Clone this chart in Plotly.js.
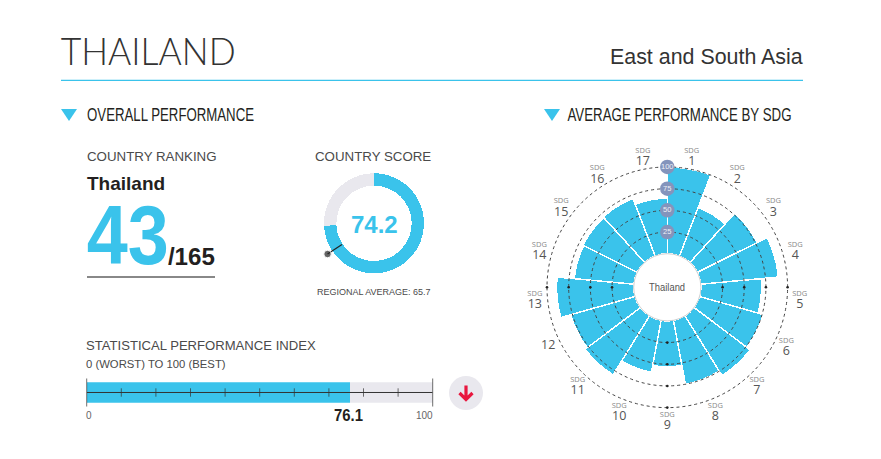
<!DOCTYPE html>
<html><head><meta charset="utf-8">
<script src="https://cdn.plot.ly/plotly-3.0.1.min.js"></script>
<style>html,body{margin:0;padding:0;background:#fff}</style></head>
<body><div id="chart" style="width:881px;height:459px"></div>
<script>
const sdgCategories = ['1','2','3','4','5','6','7','8','9','10','11','12','13','14','15','16','17'];
const sdgScores = [100,60,77,90,70,76,81,75,53,61,80,77,89,69,70,71,64];
const sdgPrefixes = ['SDG','SDG','SDG','SDG','SDG','SDG','SDG','SDG','SDG','SDG','SDG','','SDG','SDG','SDG','SDG','SDG'];
const ringValues = [25,50,75,100];
const countryScore = 74.2;
const regionalAverage = 65.7;
const statIndex = 76.1;
const statTicks = [0,10,20,30,40,50,60,70,80,90,100];

const W=881,H=459, BLUE='#3AC3EB', GREY='#E9E8EE', TXT='#4a4a4a', DARK='#231f20', FONT='Liberation Sans';
const px=x=>x/W, py=y=>1-y/H;
const cx=667.3, cy=287.3, R=120.3, LR=142, R0=33.6;
const polarDomain={x:[px(cx-R),px(cx+R)],y:[py(cy+R),py(cy-R)]};
const ringMax=102, R2=R0+(R-R0)*ringMax/100;
const ringDomain={x:[px(cx-R2),px(cx+R2)],y:[py(cy+R2),py(cy-R2)]};
const labelRadius=133;
const donut={inner:37.7,outer:50};
const scoreDeg=countryScore*3.6, regDeg=regionalAverage*3.6;

const traces=[
 {type:'barpolar',subplot:'polar',theta:sdgCategories,r:sdgScores,marker:{color:BLUE,line:{color:'#fff',width:1.5}},hoverinfo:'skip'},
 {type:'scatterpolar',subplot:'polar4',mode:'text',theta:sdgCategories,r:sdgCategories.map(()=>labelRadius),cliponaxis:false,
  text:sdgCategories.map((c,i)=>(sdgPrefixes[i]?`<span style="font-size:7.5px">${sdgPrefixes[i]}</span><br>`:'')+`<span style="font-size:12.5px;fill:#555">${c}</span>`),
  textfont:{family:'Open Sans',size:9.5,color:'#8a8a8a'},textposition:'middle center',hoverinfo:'skip'},
 {type:'scatterpolar',subplot:'polar2',mode:'markers',theta:[90,90,90,90,180,180,180,180,270,270,270,270],r:[25,50,75,100,25,50,75,100,25,50,75,100],
  marker:{size:2.6,color:'#222'},cliponaxis:false,hoverinfo:'skip'},
 {type:'scatterpolar',subplot:'polar2',mode:'markers+text',theta:ringValues.map(()=>0),r:ringValues,text:ringValues.map(String),cliponaxis:false,
  marker:{size:14.5,color:'#8494BC'},textposition:'middle center',textfont:{family:FONT,size:7.5,color:'#eef0f6'},hoverinfo:'skip'},
 {type:'barpolar',subplot:'polar3',theta:[scoreDeg/2,scoreDeg+(360-scoreDeg)/2],width:[scoreDeg,360-scoreDeg],
  r:[donut.outer-donut.inner,donut.outer-donut.inner],base:[donut.inner,donut.inner],marker:{color:[BLUE,GREY],line:{width:0}},hoverinfo:'skip'},
 {type:'scatterpolar',subplot:'polar3',mode:'lines+markers',theta:[regDeg,regDeg],r:[38.4,55.7],
  line:{color:'#222',width:1.2},marker:{size:[0,7.5],color:'#222'},cliponaxis:false,hoverinfo:'skip'},
 {type:'bar',orientation:'h',x:[statIndex],y:[0],width:[1],marker:{color:BLUE},hoverinfo:'skip'},
 {type:'bar',orientation:'h',x:[100-statIndex],y:[0],width:[1],marker:{color:GREY},hoverinfo:'skip'},
 {type:'scatter',mode:'lines+markers',x:statTicks,y:statTicks.map(()=>0),line:{color:'#333',width:1},
  marker:{symbol:'line-ns',size:statTicks.map(t=>(t===0||t===100)?20:6),line:{color:'#333',width:1}},cliponaxis:false,hoverinfo:'skip'}
];
const fits=[];
const ann=(text,x,y,size,o={})=>{ fits.push(o.fit||0);
 return {text,x:px(x),y:py(y),xref:'paper',yref:'paper',xanchor:o.xanchor||'left',yanchor:'middle',showarrow:false,borderpad:0,borderwidth:0,
  font:{family:o.family||FONT,size,color:o.color||TXT,weight:o.weight||400}};};
const annotations=[
 ann('THAILAND',147.5,50,37,{xanchor:'center',color:'#333',family:'Lato',weight:300,fit:175}),
 ann('East and South Asia',803,56.5,21.4,{xanchor:'right',color:'#333'}),
 ann('OVERALL PERFORMANCE',170.5,115,17.5,{xanchor:'center',color:DARK,fit:167}),
 ann('AVERAGE PERFORMANCE BY SDG',679,115,17.5,{xanchor:'center',color:DARK,fit:224}),
 ann('COUNTRY RANKING',87,156,13.3),
 ann('<b>Thailand</b>',87,183,19,{color:DARK}),
 ann('<b>43</b>',127.5,235,84,{xanchor:'center',color:BLUE,fit:82}),
 ann('<b>/165</b>',191.5,256.5,23,{xanchor:'center',color:DARK,fit:47}),
 ann('COUNTRY SCORE',373,156,13.3,{xanchor:'center'}),
 ann('<b>74.2</b>',374,224,24,{xanchor:'center',color:BLUE}),
 ann('REGIONAL AVERAGE: 65.7',374,292,9,{xanchor:'center'}),
 ann('STATISTICAL PERFORMANCE INDEX',86,345,13.1),
 ann('0 (WORST) TO 100 (BEST)',86,364,11.3),
 ann('0',85.5,415.5,10,{color:'#666'}),
 ann('100',433,415.5,10,{xanchor:'right',color:'#666'}),
 ann('<b>'+statIndex+'</b>',348.5,415.5,17,{xanchor:'center',color:DARK,fit:29}),
 ann('Thailand',667,287,11,{xanchor:'center',color:'#555',fit:36})
];
const tri=(x)=>`M${px(x)},${py(109)} L${px(x+16)},${py(109)} L${px(x+8)},${py(121)} Z`;
const shapes=[
 {type:'line',xref:'paper',yref:'paper',x0:px(61),x1:px(803),y0:py(80.3),y1:py(80.3),line:{color:BLUE,width:1.2}},
 {type:'path',xref:'paper',yref:'paper',path:tri(61),fillcolor:BLUE,line:{width:0}},
 {type:'path',xref:'paper',yref:'paper',path:tri(544),fillcolor:BLUE,line:{width:0}},
 {type:'line',xref:'paper',yref:'paper',x0:px(87),x1:px(215),y0:py(277),y1:py(277),line:{color:'#888',width:1.8}},
 {type:'circle',xref:'paper',yref:'paper',x0:px(449),x1:px(483),y0:py(410),y1:py(376),fillcolor:GREY,line:{width:0}},
 {type:'path',xref:'paper',yref:'paper',path:`M${px(466)},${py(385.5)} L${px(466)},${py(399)} M${px(459.5)},${py(393)} L${px(466)},${py(399.5)} L${px(472.5)},${py(393)}`,line:{color:'#E8173F',width:3.2}},
 {type:'circle',xref:'paper',yref:'paper',x0:px(cx-R0),x1:px(cx+R0),y0:py(cy+R0),y1:py(cy-R0),line:{color:'#bbb',width:0.7}}
];
const catAngular={type:'category',categoryorder:'array',categoryarray:sdgCategories,direction:'clockwise',rotation:90-360/17/2,
    showgrid:false,showticklabels:false,ticks:'',showline:false};
const plainAngular={direction:'clockwise',rotation:90,showgrid:false,showticklabels:false,ticks:'',showline:false};
const layout={width:W,height:H,margin:{l:0,r:0,t:0,b:0},paper_bgcolor:'#fff',plot_bgcolor:'rgba(0,0,0,0)',showlegend:false,barmode:'stack',bargap:0,
 annotations,shapes,
 xaxis:{domain:[px(86.7),px(432.7)],range:[0,100],visible:false,fixedrange:true},
 yaxis:{domain:[py(402.7),py(382.3)],range:[-0.5,0.5],visible:false,fixedrange:true},
 polar:{domain:polarDomain,hole:R0/R,bargap:0,bgcolor:'rgba(0,0,0,0)',radialaxis:{range:[0,100],visible:false},angularaxis:catAngular},
 polar2:{domain:ringDomain,hole:R0/R2,bgcolor:'rgba(0,0,0,0)',
  radialaxis:{range:[0,ringMax],tickvals:ringValues,showticklabels:false,ticks:'',showline:false,showgrid:true,gridcolor:'#444',griddash:'dot',gridwidth:1},
  angularaxis:plainAngular},
 polar3:{domain:{x:[px(314),px(434)],y:[py(283.3),py(163.3)]},bargap:0,bgcolor:'rgba(0,0,0,0)',radialaxis:{range:[0,60],visible:false},angularaxis:plainAngular},
 polar4:{domain:{x:[px(cx-LR),px(cx+LR)],y:[py(cy+LR),py(cy-LR)]},bgcolor:'rgba(0,0,0,0)',radialaxis:{range:[0,LR],visible:false},angularaxis:catAngular}
};
Plotly.newPlot('chart',traces,layout,{displayModeBar:false,staticPlot:true}).then(()=>{
 document.querySelectorAll('#chart .annotation-text').forEach((t,i)=>{
  if(fits[i]){t.setAttribute('textLength',fits[i]);t.setAttribute('lengthAdjust','spacingAndGlyphs');}
 });
});
</script></body></html>
